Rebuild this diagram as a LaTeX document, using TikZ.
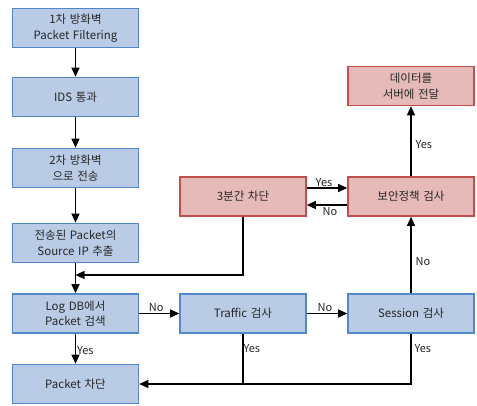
\documentclass[tikz,border=0pt]{standalone}
\usepackage{fontspec}
\setmainfont[WordSpace=1.4]{Noto Sans CJK KR}
\usepackage{xcolor}
\usetikzlibrary{arrows.meta}
\definecolor{stepBlue}{rgb}{0.73,0.80,0.90}
\definecolor{edgeBlue}{rgb}{0.33,0.53,0.78}
\definecolor{stepRed}{rgb}{0.90,0.73,0.72}
\definecolor{edgeRed}{rgb}{0.75,0.31,0.30}

\tikzset{
  bluebox/.style={draw=edgeBlue, fill=stepBlue, line width=1.6pt,
    minimum width=126pt, minimum height=39pt, align=center, inner sep=1pt,
    text=black!85, font=\fontsize{11.5}{15.5}\selectfont},
  redbox/.style={bluebox, draw=edgeRed, fill=stepRed},
  flow/.style={line width=1.1pt, -{Triangle[length=9pt,width=8pt]}},
  link/.style={line width=1.1pt},
  lbl/.style={font=\fontsize{11}{12}\selectfont, text=black!85, inner sep=1pt}
}

\begin{document}
\begin{tikzpicture}[x=1pt,y=-1pt]

  % Page frame (pixel grid of the reference)
  \useasboundingbox (0,0) rectangle (477,405);

  % Left column
  \node[bluebox] (fw1)   at (75.5,28)   {1차 방화벽\\Packet Filtering};
  \node[bluebox] (ids)   at (75.5,97)   {IDS 통과};
  \node[bluebox] (fw2)   at (75.5,168)  {2차 방화벽\\으로 전송};
  \node[bluebox] (src)   at (75.5,243)  {전송된 Packet의\\Source IP 추출};
  \node[bluebox] (logdb) at (75.5,313.5){Log DB에서\\Packet 검색};
  \node[bluebox] (block) at (75.5,384)  {Packet 차단};

  % Checks
  \node[bluebox] (traffic) at (243,313.5) {Traffic 검사};
  \node[bluebox] (session) at (411,313.5) {Session 검사};

  % Red outcome boxes
  \node[redbox] (ban)     at (243,196.5) {3분간 차단};
  \node[redbox] (policy)  at (411,196.5) {보안정책 검사};
  \node[redbox] (deliver) at (411,86)    {데이터를\\서버에 전달};

  \coordinate (merge) at (75.5,275);

  % Main chain
  \draw[flow] (fw1) -- (ids);
  \draw[flow] (ids) -- (fw2);
  \draw[flow] (fw2) -- (src);
  \draw[flow] (src) -- (logdb);
  \draw[flow] (ban.south) |- (merge);

  \draw[flow] (logdb) -- node[lbl, above, xshift=-3pt] {No} (traffic);
  \draw[flow] (traffic) -- node[lbl, above, xshift=-2pt] {No} (session);
  \draw[flow] (logdb) -- node[lbl, right, yshift=-2pt] {Yes} (block);

  % Yes branches back to Packet 차단
  \draw[link] (traffic.south) -- node[lbl, pos=0.3, right, xshift=-1pt] {Yes} (traffic.south |- block.east);
  \draw[flow] (session.south) -- node[lbl, pos=0.3, right, xshift=2pt] {Yes} (session.south |- block.east) -- (block.east);

  % Session -> policy -> deliver
  \draw[flow] (session) -- node[lbl, right, pos=0.42, xshift=3pt] {No} (policy);
  \draw[flow] (policy) -- node[lbl, right, pos=0.45, xshift=3pt] {Yes} (deliver);

  % Between red boxes
  \draw[flow] ([yshift=8.5pt]ban.east) -- node[lbl, above, xshift=-3pt] {Yes} ([yshift=8.5pt]policy.west);
  \draw[flow] ([yshift=-8.5pt]policy.west) -- node[lbl, below, xshift=3pt, yshift=-1pt] {No} ([yshift=-8.5pt]ban.east);

\end{tikzpicture}
\end{document}
